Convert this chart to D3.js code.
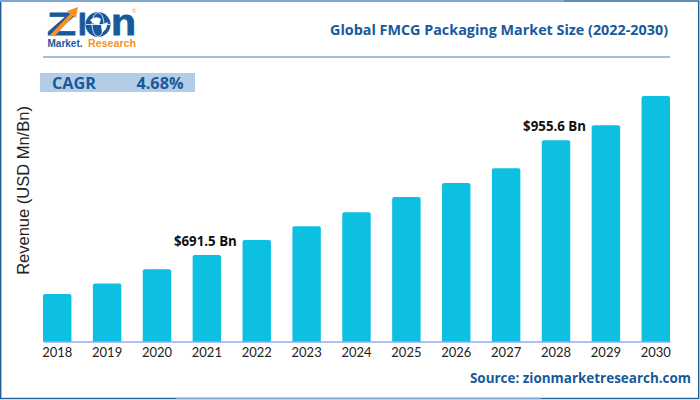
<!DOCTYPE html>
<html>
<head>
<meta charset="utf-8">
<script src="https://cdn.jsdelivr.net/npm/d3@7"></script>
<style>
  html, body { margin: 0; padding: 0; background: #fff; }
  svg { display: block; }
</style>
</head>
<body>
<svg id="chart" width="700" height="400"></svg>
<script>
const years = ["2018","2019","2020","2021","2022","2023","2024","2025","2026","2027","2028","2029","2030"];
const revenue = [602, 626, 659, 691.5, 726, 758, 790, 825, 857, 891, 955.6, 990, 1057];
const callouts = [["2021", 691.5, "$691.5 Bn"], ["2028", 955.6, "$955.6 Bn"]];

const blue = "#165a9c", paleLine = "#7fa8d0", orange = "#f5922a";
const svg = d3.select("#chart");

// frame
svg.append("rect").attr("x", 0.7).attr("y", 1).attr("width", 698).attr("height", 397.5)
  .attr("fill", "none").attr("stroke", "#1f5f96").attr("stroke-width", 1.4);
svg.append("line").attr("x1", 0).attr("x2", 564).attr("y1", 1).attr("y2", 1).attr("stroke", paleLine).attr("stroke-width", 2);
svg.append("line").attr("x1", 176).attr("x2", 541).attr("y1", 398.5).attr("y2", 398.5).attr("stroke", paleLine).attr("stroke-width", 1.5);

// header rule and title
svg.append("line").attr("x1", 43).attr("x2", 670).attr("y1", 57).attr("y2", 57).attr("stroke", paleLine).attr("stroke-width", 1.6);
svg.append("text").attr("x", 668).attr("y", 35).attr("text-anchor", "end")
  .attr("font-family", "Open Sans").attr("font-weight", 700).attr("font-size", 14.35)
  .attr("fill", blue).text("Global FMCG Packaging Market Size (2022-2030)");

// logo
const logo = svg.append("g").attr("font-family", "Liberation Sans").attr("font-weight", 700);
logo.append("text").attr("x", 47).attr("y", 35).attr("font-size", 31).attr("fill", blue)
  .attr("stroke", blue).attr("stroke-width", 0.8)
  .attr("textLength", 29).attr("lengthAdjust", "spacingAndGlyphs").text("Z");
logo.append("path").attr("d", "M49,36 L70,14 L67,11 L78,7 L76,18 L73,16 L55,36 Z").attr("fill", orange);
logo.append("text").attr("x", 78).attr("y", 35).attr("font-size", 31).attr("fill", blue)
  .attr("stroke", blue).attr("stroke-width", 0.8).text("I");
logo.append("circle").attr("cx", 98).attr("cy", 24.5).attr("r", 12.5).attr("fill", blue);
logo.append("ellipse").attr("cx", 98).attr("cy", 24.5).attr("rx", 6).attr("ry", 12).attr("fill", "none").attr("stroke", "#fff").attr("stroke-width", 0.8);
logo.append("line").attr("x1", 86).attr("x2", 110).attr("y1", 24.5).attr("y2", 24.5).attr("stroke", "#fff").attr("stroke-width", 0.8);
logo.append("path").attr("d", "M90,20 Q96,15 101,19 L99,25 L94,24 Z M101,25 L108,22 L106,29 L102,33 Z").attr("fill", "#fff");
logo.append("text").attr("x", 111).attr("y", 35).attr("font-size", 36).attr("fill", blue)
  .attr("stroke", blue).attr("stroke-width", 0.8)
  .attr("textLength", 25).attr("lengthAdjust", "spacingAndGlyphs").text("n");
logo.append("text").attr("x", 47.5).attr("y", 47).attr("font-size", 10).attr("fill", blue).text("Market.");
logo.append("text").attr("x", 88).attr("y", 47).attr("font-size", 10).attr("fill", orange)
  .attr("textLength", 48).attr("lengthAdjust", "spacingAndGlyphs").text("Research");
logo.append("text").attr("x", 132).attr("y", 13).attr("font-size", 6).attr("font-weight", 400).attr("fill", orange).text("®");

// CAGR box
svg.append("rect").attr("x", 40).attr("y", 73).attr("width", 155).attr("height", 19).attr("fill", "#b3cde6");
svg.append("text").attr("x", 52).attr("y", 89).attr("font-family", "Open Sans").attr("font-weight", 700).attr("font-size", 16.2).attr("fill", blue).text("CAGR");
svg.append("text").attr("x", 136.5).attr("y", 89).attr("font-family", "Open Sans").attr("font-weight", 700).attr("font-size", 16.2).attr("fill", blue).text("4.68%");

// scales
const x = d3.scaleBand().domain(years).range([43, 670]).paddingInner(0.43).paddingOuter(0);
const y = d3.scaleLinear().domain([493, 1057]).range([341.5, 96]);

svg.append("g").selectAll("path").data(revenue).enter().append("path")
  .attr("d", (d, i) => {
    const l = x(years[i]), r = l + x.bandwidth(), t = y(d), b = y.range()[0], c = 2;
    return `M${l},${b}V${t + c}Q${l},${t} ${l + c},${t}H${r - c}Q${r},${t} ${r},${t + c}V${b}Z`;
  })
  .attr("fill", "#0dc0e2");

// axis
const xAxis = svg.append("g").attr("transform", "translate(0,341.5)")
  .call(d3.axisBottom(x).tickSize(0).tickPadding(6));
xAxis.select(".domain").attr("stroke", "#5f80f0").attr("stroke-width", 1.2);
xAxis.selectAll("text").attr("font-family", "Lato").attr("font-size", 13).attr("fill", "#222");

svg.append("text").attr("transform", "translate(29,190.5) rotate(-90)").attr("text-anchor", "middle")
  .attr("font-family", "Liberation Sans").attr("font-size", 16.5).attr("fill", "#222").text("Revenue (USD Mn/Bn)");

// callouts
svg.append("g").selectAll("text").data(callouts).enter().append("text")
  .attr("x", d => x(d[0]) + x.bandwidth() / 2 + 30)
  .attr("y", d => y(d[1]) - 9.5)
  .attr("text-anchor", "end")
  .attr("font-family", "Open Sans").attr("font-weight", 700).attr("font-size", 13.3).attr("fill", "#111")
  .text(d => d[2]);

svg.append("text").attr("x", 691).attr("y", 383).attr("text-anchor", "end")
  .attr("font-family", "Open Sans").attr("font-weight", 700).attr("font-size", 13.45).attr("fill", blue)
  .text("Source: zionmarketresearch.com");
</script>
</body>
</html>
